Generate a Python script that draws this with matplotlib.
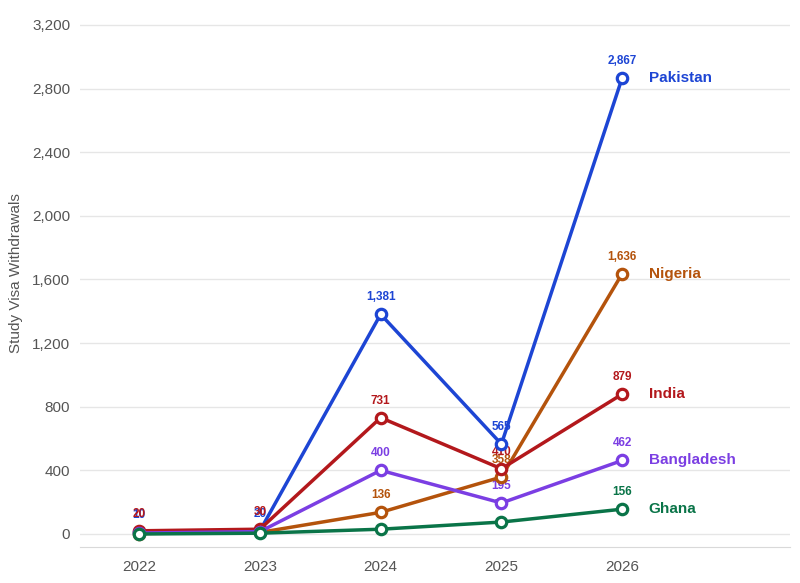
import matplotlib.pyplot as plt
from matplotlib.ticker import FuncFormatter

plt.rcParams['font.family'] = ['Liberation Sans', 'DejaVu Sans']

years = [2022, 2023, 2024, 2025, 2026]
countries = ['Pakistan', 'Nigeria', 'India', 'Bangladesh', 'Ghana']
pakistan = [10, 20, 1381, 565, 2867]
nigeria = [3, 10, 136, 358, 1636]
india = [20, 30, 731, 410, 879]
bangladesh = [6, 15, 400, 195, 462]
ghana = [0, 5, 30, 75, 156]
colors = ['#1d45d4', '#b4530c', '#b3181c', '#7b3ee3', '#0a7448']
# which points carry a value label
show_labels = [
    [True, True, True, True, True],
    [False, False, True, True, True],
    [True, True, True, True, True],
    [False, False, True, True, True],
    [False, False, False, True, True],
]

series = [pakistan, nigeria, india, bangladesh, ghana]

fig = plt.figure(figsize=(8, 5.83), dpi=100)
ax = fig.add_axes([0.1, 0.0617, 0.8875, 0.904])

for i, (name, vals, col, show) in enumerate(zip(countries, series, colors, show_labels)):
    ax.plot(years, vals, color=col, lw=2.5, marker='o', markersize=7.5,
            markerfacecolor='white', markeredgecolor=col, markeredgewidth=2.3,
            zorder=3 + i * 0.1)
    for x, v, s in zip(years, vals, show):
        if s:
            ax.annotate(f'{v:,}', (x, v), xytext=(0, 8), textcoords='offset points',
                        ha='center', va='bottom', fontsize=8.5, fontweight='bold',
                        color=col, zorder=2)
    ax.annotate(name, (years[-1], vals[-1]), xytext=(19, 0), textcoords='offset points',
                ha='left', va='center', fontsize=11, fontweight='bold', color=col)

ax.set_xlim(2021.51, 2027.39)
ax.set_ylim(-82, 3231)
ax.set_yticks(range(0, 3201, 400))
ax.yaxis.set_major_formatter(FuncFormatter(lambda v, p: f'{int(v):,}'))
ax.set_xticks(years)
ax.grid(axis='y', color='#e6e6e6', lw=1)
ax.set_axisbelow(True)
for sp in ['top', 'right', 'left']:
    ax.spines[sp].set_visible(False)
ax.spines['bottom'].set_color('#d9d9d9')
ax.tick_params(axis='both', length=0, labelsize=11, colors='#555555')
ax.tick_params(axis='x', pad=9)
ax.tick_params(axis='y', pad=7)
ax.set_ylabel('Study Visa Withdrawals', fontsize=11, color='#555555')
ax.yaxis.set_label_coords(-0.080, 0.52)

fig.savefig('out.png', dpi=100)
